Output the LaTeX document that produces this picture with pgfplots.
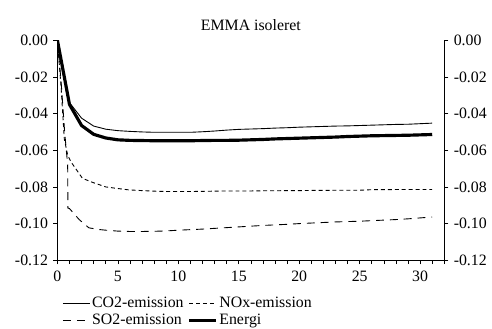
\documentclass[border=0pt]{standalone}
\usepackage{fontspec}
\setmainfont{Liberation Serif}
\usepackage{pgfplots}
\pgfplotsset{compat=1.18}
\begin{document}
\fontsize{16bp}{19bp}\selectfont
\begin{tikzpicture}
\pgfplotsset{
  common/.style={
    scale only axis, width=391bp, height=222.3bp,
    xmin=0, xmax=32, ymin=-0.12, ymax=0,
    tick align=outside,
    ytick={-0.12,-0.10,-0.08,-0.06,-0.04,-0.02,0},
    yticklabel style={/pgf/number format/.cd, fixed, fixed zerofill, precision=2, assume math mode=true},
    xticklabel style={/pgf/number format/assume math mode=true},
    major tick length=4bp, minor tick length=4bp,
    axis line style={-, line width=0.8bp},
    every tick/.style={black, line width=0.6bp},
    tick label style={font=\fontsize{16bp}{19bp}\selectfont},
  }
}
\begin{axis}[common,
  axis x line*=bottom, axis y line*=left,
  xtick={0,5,10,15,20,25,30},
  minor xtick={0,1,...,32},
  xticklabel style={yshift=-1bp},
  title={EMMA isoleret},
  title style={at={(0.5,1)}, anchor=base, yshift=3.7bp, font=\fontsize{16bp}{19bp}\selectfont},
  legend columns=2,
  legend cell align=left,
  legend style={at={(rel axis cs:0,0)}, anchor=north west, xshift=5bp, yshift=-35bp, draw=none, fill=none, inner sep=0pt,
    font=\fontsize{16bp}{19bp}\selectfont, row sep=0bp,
    /tikz/every even column/.append style={column sep=2bp}},
  legend image code/.code={\draw[#1] (0bp,0bp) -- (27bp,0bp);},
]
\coordinate (ll) at (rel axis cs:0,0);
\coordinate (ur) at (rel axis cs:1,1);
\addplot[black, line width=0.9bp] coordinates {
(0,0) (1,-0.034) (2,-0.0425) (3,-0.0468) (4,-0.0485) (5,-0.0493) (6,-0.0497) (7,-0.0500)
(8,-0.0502) (9,-0.0502) (10,-0.0502) (11,-0.0502) (12,-0.0499) (13,-0.0495) (14,-0.0490)
(15,-0.0486) (16,-0.0484) (17,-0.0482) (18,-0.0479) (19,-0.0477) (20,-0.0474) (21,-0.0472)
(22,-0.0470) (23,-0.0468) (24,-0.0467) (25,-0.0465) (26,-0.0463) (27,-0.0461) (28,-0.0459)
(29,-0.0458) (30,-0.0455) (31,-0.0452)};
\addlegendentry{CO2-emission}
\addplot[black, line width=0.9bp, dash pattern=on 4bp off 3bp] coordinates {
(0,0) (0.3,-0.025) (0.57,-0.0537) (0.85,-0.0627) (1.12,-0.0663) (2.07,-0.0753) (2.9,-0.0775)
(4,-0.0800) (4.8,-0.0807) (5.9,-0.0816) (7,-0.0820) (8,-0.0823) (9,-0.0825) (10,-0.0825)
(11,-0.0825) (12,-0.0824) (13,-0.0823) (14,-0.0822) (15,-0.0822) (16,-0.0822) (17,-0.0821)
(18,-0.0821) (19,-0.0820) (20,-0.0820) (21,-0.0819) (22,-0.0819) (23,-0.0818) (24,-0.0818)
(25,-0.0818) (26,-0.0815) (27,-0.0815) (28,-0.0814) (29,-0.0814) (30,-0.0814) (31,-0.0814)};
\addlegendentry{NOx-emission}
\addplot[black, line width=0.9bp, dash pattern=on 8bp off 6bp] coordinates {
(0,0) (0.3,-0.022) (0.6,-0.050) (0.85,-0.068) (0.87,-0.0915) (1.0,-0.0918) (1.8,-0.0978)
(2.6,-0.1023) (3.4,-0.1032) (4,-0.1036) (5,-0.1041) (6,-0.1043) (7,-0.1043) (8,-0.1042)
(9,-0.1040) (10,-0.1036) (11,-0.1033) (12,-0.1030) (13,-0.1026) (14,-0.1022) (15,-0.1018)
(16,-0.1014) (17,-0.1010) (18,-0.1007) (19,-0.1004) (20,-0.1000) (21,-0.0997) (22,-0.0994)
(23,-0.0991) (24,-0.0989) (25,-0.0987) (26,-0.0984) (27,-0.0981) (28,-0.0978) (29,-0.0974)
(30,-0.0969) (31,-0.0964)};
\addlegendentry{SO2-emission}
\addplot[black, line width=3.2bp] coordinates {
(0,0) (1,-0.035) (2,-0.0465) (3,-0.0513) (4,-0.0533) (5,-0.0543) (6,-0.0546) (7,-0.0547)
(8,-0.0548) (9,-0.0548) (10,-0.0548) (11,-0.0548) (12,-0.0547) (13,-0.0546) (14,-0.0546)
(15,-0.0545) (16,-0.0543) (17,-0.0541) (18,-0.0538) (19,-0.0536) (20,-0.0534) (21,-0.0532)
(22,-0.0530) (23,-0.0528) (24,-0.0525) (25,-0.0523) (26,-0.0521) (27,-0.0520) (28,-0.0519)
(29,-0.0518) (30,-0.0516) (31,-0.0514)};
\addlegendentry{Energi}
\end{axis}
\begin{axis}[common,
  axis x line=none, axis y line*=right,
  yticklabel pos=right,
]
\end{axis}
\path[use as bounding box] ([shift={(-58bp,-63bp)}]ll) rectangle ([shift={(43bp,40.7bp)}]ur);
\end{tikzpicture}
\end{document}
